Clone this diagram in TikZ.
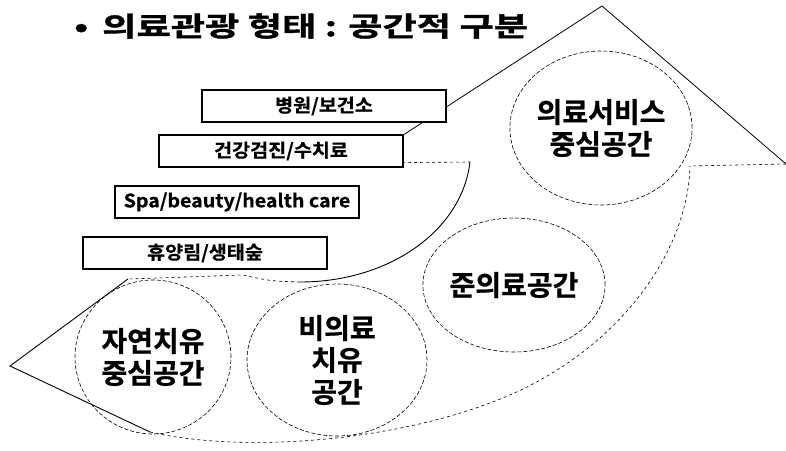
\documentclass[tikz,border=0pt]{standalone}
\usepackage{fontspec}
\setmainfont{Noto Sans CJK KR}[BoldFont={Noto Sans CJK KR Bold},BoldFeatures={FakeBold=0.8}]
\newfontfamily\titlefont{Noto Sans CJK KR Bold}[FakeStretch=1.38,FakeBold=1.4]
\newfontfamily\boxfont{Noto Sans CJK KR Bold}[FakeStretch=1.06,FakeBold=0.6]
\usetikzlibrary{shapes.geometric}

\begin{document}
\begin{tikzpicture}[x=1pt,y=-1pt,
		place/.style={draw,line width=2.4pt,fill=white,minimum width=244pt,minimum height=32pt,inner sep=0pt,font=\boxfont\fontsize{18.5}{22}\selectfont},
		zone/.style={ellipse,draw,dash pattern=on 4pt off 2pt,line width=0.6pt,inner sep=0pt,align=center,font=\bfseries\fontsize{28}{32}\selectfont}]
		\useasboundingbox (0,0) rectangle (786,450);

		% title
		\node[anchor=west,inner sep=0pt,font=\titlefont\fontsize{27}{30}\selectfont] (title) at (74,26) {•\hspace{14pt}의료관광 형태 : 공간적 구분};

		% curved arrow
		\draw[line width=0.8pt] (360,163) -- (602,6) -- (786,164);
		\draw[line width=0.6pt,dashed] (786,164) -- (690,166);
		\draw[line width=0.6pt,dashed] (360,163) -- (470,162);
		\draw[line width=0.9pt] (470,162) .. controls (462,230) and (390,282) .. (300,282);
		\draw[line width=0.6pt,dashed] (300,282) .. controls (270,281) .. (243,275) -- (128,279);
		\draw[line width=0.9pt] (128,279) -- (10,366) -- (150,432);
		\draw[line width=0.6pt,dashed] (150,432) .. controls (250,455) and (420,440) .. (527,387)
			.. controls (630,335) and (688,245) .. (690,166);

		% spaces
		\node[zone,minimum width=156pt,minimum height=154pt] (nature) at (153,357) {자연치유\\중심공간};
		\node[zone,minimum width=180pt,minimum height=152pt] (nonmed) at (337,360) {비의료\\치유\\공간};
		\node[zone,minimum width=172pt,minimum height=134pt] (semimed) at (514,285) {준의료공간};
		\node[zone,minimum width=182pt,minimum height=154pt] (medical) at (601,128) {의료서비스\\중심공간};

		% places
		\node[place] (hospital) at (324,106) {병원/보건소};
		\node[place] (checkup) at (281,151) {건강검진/수치료};
		\node[place] (spa) at (237,202) {Spa/beauty/health care};
		\node[place] (forest) at (205,253) {휴양림/생태숲};
	\end{tikzpicture}
\end{document}
